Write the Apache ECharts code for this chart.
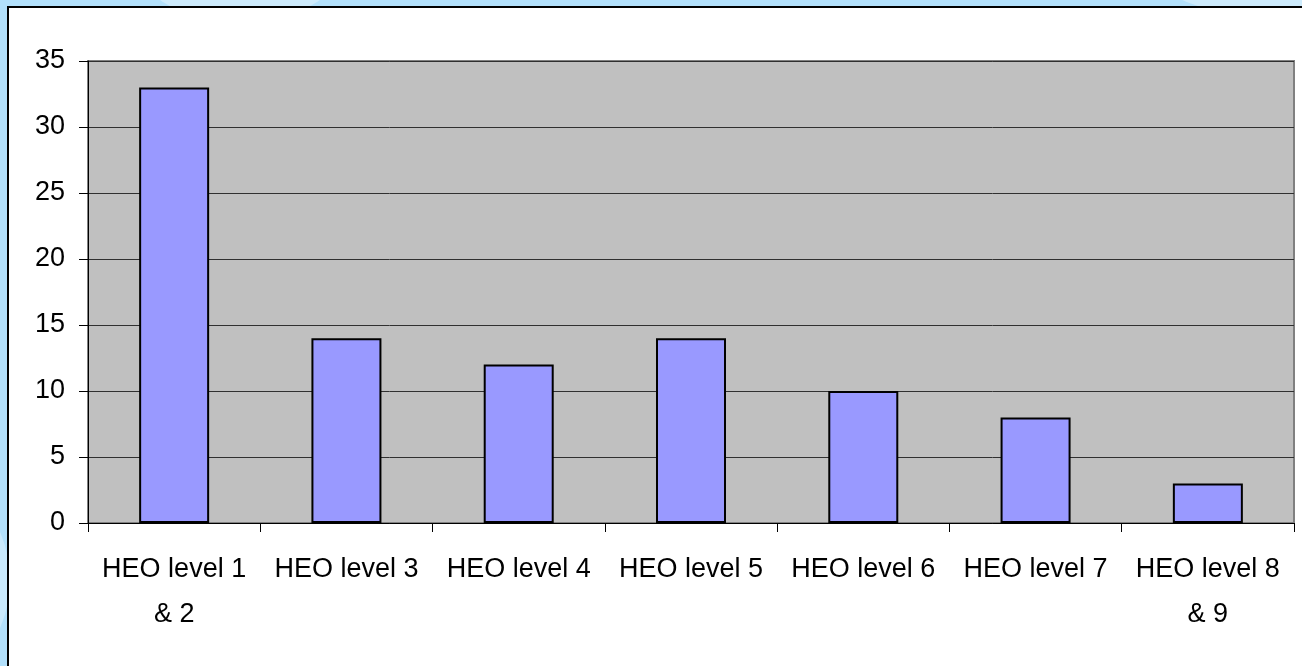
<!DOCTYPE html>
<html>
<head>
<meta charset="utf-8">
<script src="https://cdn.jsdelivr.net/npm/echarts@6/dist/echarts.min.js"></script>
<style>
  html, body { margin: 0; padding: 0; background: #b2e0fb; }
  #chart { width: 1302px; height: 666px; }
</style>
</head>
<body>
<div id="chart"></div>
<script>
const categories = ['HEO level 1\n& 2', 'HEO level 3', 'HEO level 4', 'HEO level 5', 'HEO level 6', 'HEO level 7', 'HEO level 8\n& 9']
const values = [33, 14, 12, 14, 10, 8, 3]
const yTicks = { min: 0, max: 35, interval: 5 }

const FONT = '"Liberation Sans", Arial, sans-serif'

const chart = echarts.init(document.getElementById('chart'), null, { renderer: 'canvas' })
chart.setOption({
  animation: false,
  backgroundColor: '#b2e0fb',
  textStyle: { fontFamily: FONT, color: '#000' },
  graphic: [
    // light swirls in the blue margin
    { type: 'circle', shape: { cx: 240, cy: -115, r: 140 }, style: { fill: 'rgba(255,255,255,0.35)' }, z: -2 },
    { type: 'circle', shape: { cx: 1250, cy: -145, r: 160 }, style: { fill: 'rgba(255,255,255,0.35)' }, z: -2 },
    { type: 'circle', shape: { cx: -110, cy: 580, r: 120 }, style: { fill: 'rgba(255,255,255,0.3)' }, z: -2 },
    // white panel
    { type: 'rect', shape: { x: 8, y: 7, width: 1400, height: 800 },
      style: { fill: '#fff', stroke: '#000', lineWidth: 2 }, z: -1 },
  ],
  grid: {
    left: 88, right: 8, top: 61, bottom: 143,
    show: true, backgroundColor: '#c0c0c0', borderColor: '#808080', borderWidth: 2,
  },
  xAxis: {
    type: 'category', data: categories,
    axisLine: { lineStyle: { color: '#000', width: 1 } },
    axisTick: { show: true, length: 9, lineStyle: { color: '#000' } },
    axisLabel: { interval: 0, color: '#000', fontFamily: FONT, fontSize: 27, lineHeight: 45, margin: 24 },
  },
  yAxis: {
    type: 'value', min: yTicks.min, max: yTicks.max, interval: yTicks.interval,
    axisLine: { show: true, lineStyle: { color: '#000', width: 1 } },
    axisTick: { show: true, length: 9, lineStyle: { color: '#000' } },
    axisLabel: { color: '#000', fontFamily: FONT, fontSize: 27, margin: 23 },
    splitLine: { lineStyle: { color: '#303030', width: 1 } },
  },
  series: [{
    type: 'bar', data: values, barWidth: 70,
    itemStyle: { color: '#9999ff', borderColor: '#000', borderWidth: 2 },
  }],
})
</script>
</body>
</html>
